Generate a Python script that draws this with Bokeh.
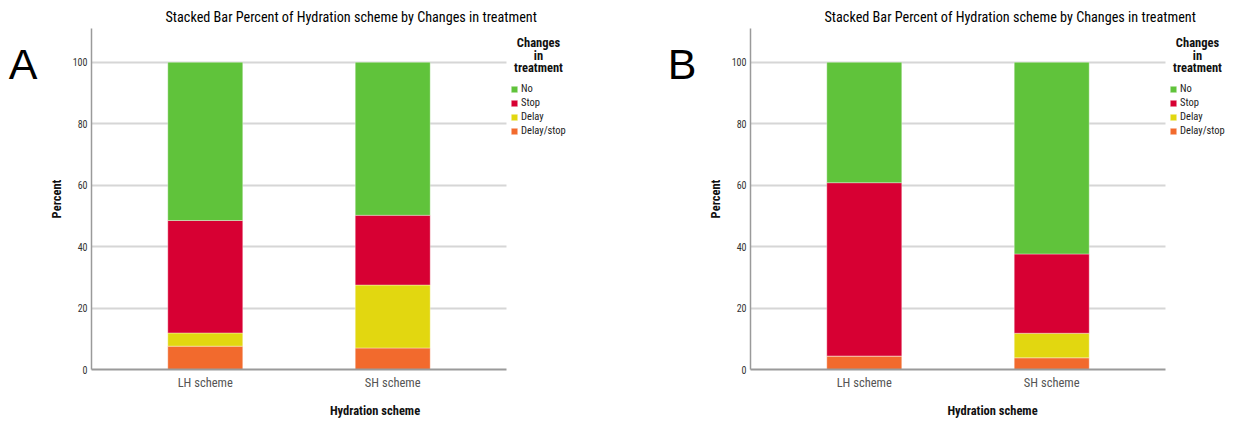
from bokeh.plotting import figure
from bokeh.models import (ColumnDataSource, Range1d, Legend, LegendItem,
                          FixedTicker, LinearAxis, Label)
from bokeh.layouts import row
from bokeh.embed import file_html
from bokeh.resources import INLINE

# ---------------- data ----------------
schemes = ["LH scheme", "SH scheme"]
stack_keys = ["delay_stop", "delay", "stop", "no"]
stack_labels = ["Delay/stop", "Delay", "Stop", "No"]
colors = ["#f26a2d", "#e2d710", "#d70033", "#60c33b"]

# Panel A (percent)
a_delay_stop = [7.6, 7.0]
a_delay = [4.3, 20.5]
a_stop = [36.6, 22.7]
a_no = [51.5, 49.8]

# Panel B (percent)
b_delay_stop = [4.4, 3.8]
b_delay = [0.0, 8.0]
b_stop = [56.4, 25.8]
b_no = [39.2, 62.4]

y_ticks = [0, 20, 40, 60, 80, 100]
grid_ticks = [20, 40, 60, 80, 100]
title_text = "Stacked Bar Percent of Hydration scheme by Changes in treatment"
x_title = "Hydration scheme"
y_title = "Percent"
legend_title_lines = ["Changes", "in", "treatment"]

NARROW = "Roboto Condensed"
REG = "Liberation Sans"
LETTER_POS = 99.35          # vertical placement of the panel letter
X_START, X_BARS_END = -0.107, 2.107   # category slots at 0.5, 1.5
BARS_PX = 415                # width of the plotting area that holds the bars


def make_panel(letter, ds, dl, st, no, width, border_left):
    xs = [i + 0.5 for i in range(len(schemes))]
    src = ColumnDataSource(dict(x=xs, scheme=schemes, delay_stop=ds,
                                delay=dl, stop=st, no=no))
    frame_w = width - border_left
    x_end = X_START + frame_w * (X_BARS_END - X_START) / BARS_PX
    p = figure(x_range=Range1d(X_START, x_end), y_range=Range1d(0, 111),
               width=width, height=421,
               output_backend="svg", toolbar_location=None,
               min_border_left=border_left, min_border_right=0,
               min_border_top=28, min_border_bottom=52)
    p.outline_line_color = None

    rends = p.vbar_stack(stack_keys, x="x", width=0.40, source=src,
                         fill_color=colors, line_color="white",
                         line_alpha=0.35, line_width=1)

    # title
    p.title.text = title_text
    p.title.align = "left"
    p.title.offset = 74
    p.title.standoff = 8
    p.title.text_font = NARROW
    p.title.text_font_size = "14.2px"
    p.title.text_font_style = "normal"
    p.title.text_color = "#000000"

    # y axis
    p.yaxis.ticker = FixedTicker(ticks=y_ticks)
    p.yaxis.major_tick_line_color = None
    p.yaxis.major_tick_out = 0
    p.yaxis.major_tick_in = 0
    p.yaxis.minor_tick_line_color = None
    p.yaxis.axis_line_color = "#9a9a9a"
    p.yaxis.axis_line_width = 1.5
    p.yaxis.major_label_standoff = 4
    p.yaxis.major_label_text_font = NARROW
    p.yaxis.major_label_text_font_size = "10px"
    p.yaxis.major_label_text_color = "#333333"
    p.yaxis.axis_label = y_title
    p.yaxis.axis_label_standoff = 6
    p.yaxis.axis_label_text_font = NARROW
    p.yaxis.axis_label_text_font_style = "bold"
    p.yaxis.axis_label_text_font_size = "12.5px"
    p.yaxis.axis_label_text_color = "#111111"

    # x axis (category names on the slot centres)
    p.xaxis.ticker = FixedTicker(ticks=xs)
    p.xaxis.major_label_overrides = {x: s for x, s in zip(xs, schemes)}
    p.xaxis.bounds = (X_START, X_BARS_END)
    p.xaxis.major_tick_line_color = None
    p.xaxis.major_tick_out = 0
    p.xaxis.major_tick_in = 0
    p.xaxis.minor_tick_line_color = None
    p.xaxis.axis_line_color = "#9a9a9a"
    p.xaxis.axis_line_width = 2
    p.xaxis.major_label_standoff = 5
    p.xaxis.major_label_text_font = NARROW
    p.xaxis.major_label_text_font_size = "12.5px"
    p.xaxis.major_label_text_color = "#555555"
    p.xaxis.axis_label = x_title
    p.xaxis.axis_label_standoff = 10
    p.xaxis.axis_label_text_font = NARROW
    p.xaxis.axis_label_text_font_style = "bold"
    p.xaxis.axis_label_text_font_size = "12.5px"
    p.xaxis.axis_label_text_color = "#111111"

    # panel letter, drawn as the single label of an extra left axis
    letter_axis = LinearAxis(ticker=FixedTicker(ticks=[LETTER_POS]),
                             major_label_overrides={LETTER_POS: letter},
                             axis_line_color=None,
                             major_tick_line_color=None,
                             major_tick_out=0, major_tick_in=0,
                             minor_tick_line_color=None,
                             major_label_standoff=8,
                             major_label_text_font=REG,
                             major_label_text_font_size="43px",
                             major_label_text_color="black")
    p.add_layout(letter_axis, "left")

    p.xgrid.grid_line_color = None
    p.ygrid.ticker = FixedTicker(ticks=grid_ticks)
    p.ygrid.cross_bounds = (X_START, X_BARS_END)
    p.ygrid.grid_line_color = "#d6d6d6"
    p.ygrid.grid_line_width = 2

    # legend (top to bottom: No, Stop, Delay, Delay/stop)
    items = [LegendItem(label=stack_labels[i], renderers=[rends[i]])
             for i in [3, 2, 1, 0]]
    legend = Legend(items=items, location=(419, 232), orientation="vertical",
                    border_line_color=None, background_fill_alpha=0,
                    padding=0, margin=0, glyph_width=8, glyph_height=8,
                    label_standoff=3, label_height=13, spacing=1,
                    label_text_font=NARROW, label_text_font_size="10.5px",
                    label_text_color="#222222")
    p.add_layout(legend)
    for txt, yb in zip(legend_title_lines, [327, 314.5, 302]):
        p.add_layout(Label(x=447, y=yb, x_units="screen", y_units="screen",
                           text=txt, text_font=NARROW, text_font_style="bold",
                           text_font_size="12.5px", text_align="center",
                           text_baseline="alphabetic", text_color="#111111"))
    return p


pa = make_panel("A", a_delay_stop, a_delay, a_stop, a_no, 658, 91)
pb = make_panel("B", b_delay_stop, b_delay, b_stop, b_no, 576, 92)

layout = row(pa, pb)
open("out.html", "w").write(file_html(layout, INLINE))
